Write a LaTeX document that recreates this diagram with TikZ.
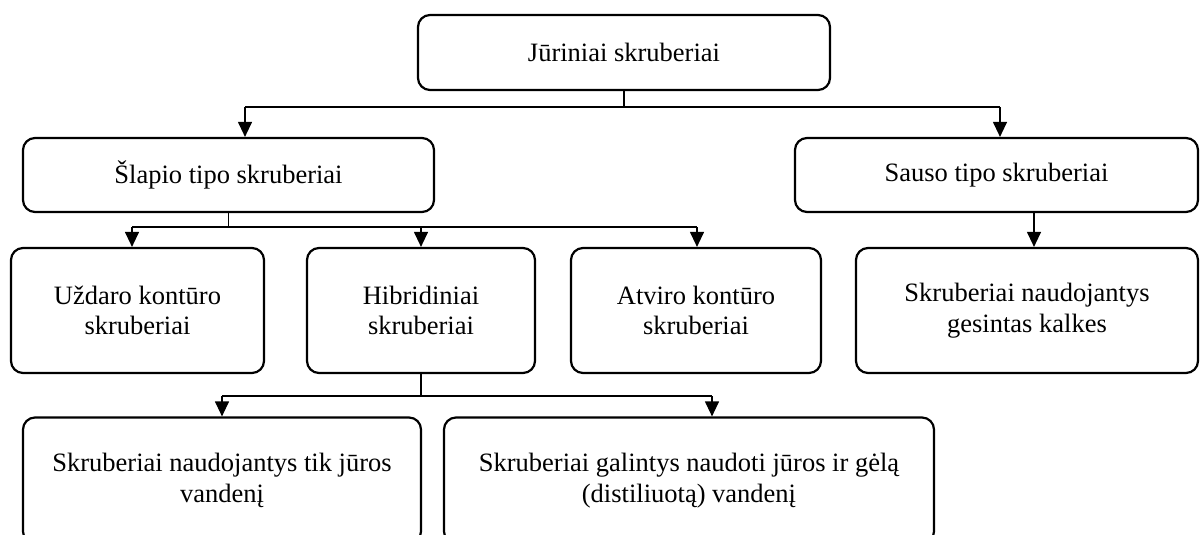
\documentclass[tikz,border=0pt]{standalone}
\usepackage{fontspec}
\setmainfont{Liberation Serif}
\usetikzlibrary{arrows.meta}
\begin{document}
\begin{tikzpicture}[x=1pt,y=-1pt,
  box/.style={draw,line width=2.2pt,rounded corners=12pt,align=center,
    inner sep=0pt,font=\fontsize{26.5}{30.5}\selectfont},
  conn/.style={line width=1.2pt},
  arr/.style={conn,-{Triangle[width=14pt,length=15pt]}}]
\useasboundingbox (0,0) rectangle (1200,535);

% boxes
\node[box,minimum width=412pt,minimum height=75pt] (top) at (624,52.5) {Jūriniai skruberiai};
\node[box,minimum width=411pt,minimum height=74pt] (wet) at (228.5,175) {Šlapio tipo skruberiai};
\node[box,minimum width=403pt,minimum height=74pt] (dry) at (996.5,175) {Sauso tipo skruberiai};
\node[box,minimum width=253pt,minimum height=125pt] (closed) at (137.5,310.5) {Uždaro kontūro\\skruberiai};
\node[box,minimum width=228pt,minimum height=125pt] (hybrid) at (421,310.5) {Hibridiniai\\skruberiai};
\node[box,minimum width=250pt,minimum height=125pt] (open) at (696,310.5) {Atviro kontūro\\skruberiai};
\node[box,minimum width=342pt,minimum height=125pt] (lime) at (1027,310.5) {Skruberiai naudojantys\\gesintas kalkes};
\node[box,minimum width=398pt,minimum height=126pt] (sea) at (222,480.5) {Skruberiai naudojantys tik jūros\\vandenį};
\node[box,minimum width=490pt,minimum height=126pt] (fresh) at (689,480.5) {Skruberiai galintys naudoti jūros ir gėlą\\(distiliuotą) vandenį};

% branch points
\coordinate (j1) at (624,107);
\coordinate (b1) at (245,107);
\coordinate (b2) at (1000,107);
\coordinate (j2) at (228.5,227);
\coordinate (c1) at (132,227);
\coordinate (c2) at (421,227);
\coordinate (c3) at (697,227);
\coordinate (d1) at (1034,212);
\coordinate (j3) at (421,396);
\coordinate (e1) at (222,396);
\coordinate (e2) at (712,396);

% connectors
\draw[conn] (top.south) -- (j1);
\draw[conn] (b1) -- (b2);
\draw[arr] (b1) -- (b1 |- wet.north);
\draw[arr] (b2) -- (b2 |- dry.north);

\draw[conn] (wet.south) -- (j2);
\draw[conn] (c1) -- (c3);
\draw[arr] (c1) -- (c1 |- closed.north);
\draw[arr] (c2) -- (c2 |- hybrid.north);
\draw[arr] (c3) -- (c3 |- open.north);

\draw[arr] (d1) -- (d1 |- lime.north);

\draw[conn] (hybrid.south) -- (j3);
\draw[conn] (e1) -- (e2);
\draw[arr] (e1) -- (e1 |- sea.north);
\draw[arr] (e2) -- (e2 |- fresh.north);
\end{tikzpicture}
\end{document}
